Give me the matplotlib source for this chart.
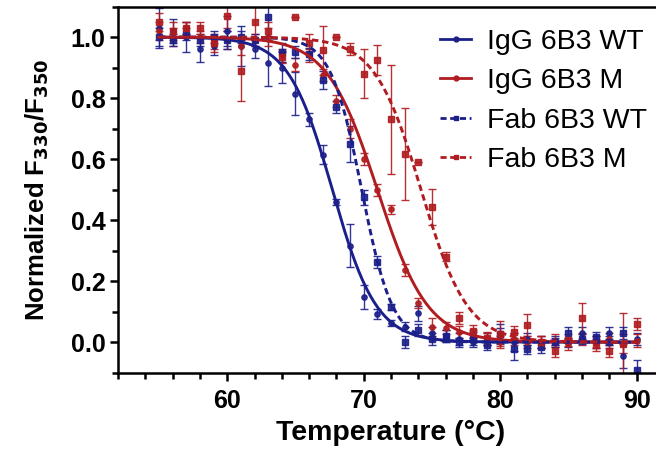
import numpy as np
import matplotlib
matplotlib.use("Agg")
import matplotlib.pyplot as plt
from matplotlib.lines import Line2D
from matplotlib.ticker import MultipleLocator

plt.rcParams['font.family'] = ['Liberation Sans', 'DejaVu Sans']

# ---- data ----
temps = list(range(55, 91))

igg_wt = [1.03, 1.02, 1.00, 0.96, 0.97, 1.02, 0.97, 0.96, 0.915, 0.90,
          0.815, 0.73, 0.615, 0.46, 0.316, 0.148, 0.092, 0.062, 0.05, 0.095,
          0.03, 0.02, 0.01, 0.0, 0.01, 0.02, 0.0, 0.01, 0.0, 0.005,
          0.0, 0.03, 0.0, 0.03, -0.045, 0.01]
igg_wt_err = [0.065, 0.04, 0.05, 0.04, 0.03, 0.05, 0.065, 0.03, 0.075, 0.05,
              0.07, 0.02, 0.03, 0.01, 0.07, 0.04, 0.015, 0.01, 0.015, 0.025,
              0.02, 0.02, 0.02, 0.015, 0.02, 0.025, 0.03, 0.02, 0.02, 0.015,
              0.015, 0.02, 0.02, 0.02, 0.04, 0.02]

igg_m = [1.02, 1.0, 1.03, 1.0, 0.98, 0.99, 0.97, 0.99, 1.0, 0.94,
         0.91, 0.94, 0.875, 0.79, 0.70, 0.60, 0.50, 0.436, 0.236, 0.128,
         0.05, 0.045, 0.033, 0.02, 0.01, 0.0, 0.01, 0.0, 0.0, 0.005,
         -0.005, 0.01, 0.0, 0.01, -0.005, 0.005]
igg_m_err = [0.03, 0.03, 0.02, 0.02, 0.02, 0.03, 0.03, 0.02, 0.03, 0.02,
             0.02, 0.02, 0.02, 0.02, 0.03, 0.02, 0.02, 0.015, 0.02, 0.015,
             0.03, 0.02, 0.02, 0.02, 0.02, 0.02, 0.02, 0.02, 0.02, 0.02,
             0.02, 0.02, 0.02, 0.02, 0.1, 0.02]

fab_wt = [1.0, 0.99, 1.01, 0.99, 1.0, 0.99, 1.0, 0.99, 1.065, 0.95,
          0.95, 0.945, 0.86, 0.77, 0.65, 0.475, 0.263, 0.116, 0.0, 0.04,
          0.01, 0.02, 0.0, 0.012, -0.01, 0.028, -0.024, -0.024, -0.015, 0.0,
          0.03, 0.01, 0.017, 0.0, 0.03, -0.09]
fab_wt_err = [0.03, 0.02, 0.02, 0.02, 0.02, 0.03, 0.02, 0.02, 0.06, 0.03,
              0.02, 0.02, 0.03, 0.02, 0.06, 0.025, 0.02, 0.01, 0.02, 0.02,
              0.02, 0.02, 0.015, 0.02, 0.015, 0.03, 0.035, 0.015, 0.02, 0.015,
              0.02, 0.015, 0.015, 0.02, 0.02, 0.03]

fab_m = [1.05, 1.02, 1.03, 1.03, 0.98, 1.07, 0.89, 1.05, 1.02, 0.935,
         1.067, 0.98, 0.957, 1.0, 0.96, 0.88, 0.925, 0.73, 0.616, 0.59,
         0.443, 0.28, 0.08, 0.035, 0.012, 0.028, 0.033, 0.056, 0.0, -0.028,
         0.007, 0.078, -0.01, -0.03, -0.005, 0.06]
fab_m_err = [0.03, 0.03, 0.02, 0.02, 0.03, 0.04, 0.1, 0.06, 0.03, 0.02,
             0.0, 0.03, 0.08, 0.0, 0.02, 0.08, 0.05, 0.18, 0.15, 0.0,
             0.06, 0.015, 0.02, 0.02, 0.02, 0.04, 0.02, 0.035, 0.02, 0.02,
             0.02, 0.05, 0.02, 0.02, 0.03, 0.02]

# Boltzmann fit parameters shown in the figure: (Tm, slope)
fit_tm = [67.7, 71.0, 69.85, 74.2]
fit_slope = [1.62, 1.85, 1.13, 1.7]

labels = ["IgG 6B3 WT", "IgG 6B3 M", "Fab 6B3 WT", "Fab 6B3 M"]

NAVY = '#1b1f8a'
RED = '#b01c1f'
colors = [NAVY, RED, NAVY, RED]
styles = ['-', '-', (0, (2.2, 1.3)), (0, (2.2, 1.3))]
markers = ['o', 'o', 's', 's']
msizes = [3.8, 3.8, 4.4, 4.4]

series = [(igg_wt, igg_wt_err), (igg_m, igg_m_err),
          (fab_wt, fab_wt_err), (fab_m, fab_m_err)]

fig = plt.figure(figsize=(6.56, 4.51), dpi=100)
ax = fig.add_axes([118 / 656, 1 - 372.6 / 451, 546 / 656, 366 / 451])

t_fine = np.linspace(min(temps), max(temps), 400)
for i, (vals, errs) in enumerate(series):
    ax.errorbar(temps, vals, yerr=errs, fmt=markers[i], ms=msizes[i],
                color=colors[i], ecolor=colors[i], elinewidth=1.0,
                capsize=3, capthick=1.0, alpha=0.9, zorder=2)
for i in range(4):
    curve = 1 / (1 + np.exp((t_fine - fit_tm[i]) / fit_slope[i]))
    ax.plot(t_fine, curve, color=colors[i], ls=styles[i], lw=2.1, zorder=3)

ax.set_xlim(52, 92)
ax.set_ylim(-0.1, 1.1)
ax.xaxis.set_major_locator(MultipleLocator(10))
ax.xaxis.set_minor_locator(MultipleLocator(2))
ax.yaxis.set_major_locator(MultipleLocator(0.2))
ax.yaxis.set_minor_locator(MultipleLocator(0.1))
ax.yaxis.set_major_formatter(matplotlib.ticker.FormatStrFormatter('%.1f'))

for sp in ax.spines.values():
    sp.set_linewidth(1.8)
ax.tick_params(axis='x', which='major', pad=6)
ax.tick_params(axis='y', which='major', pad=3)
ax.tick_params(which='major', direction='out', length=6, width=1.8,
               labelsize=18)
ax.tick_params(which='minor', direction='out', length=4, width=1.8)
for lab in ax.get_xticklabels() + ax.get_yticklabels():
    lab.set_fontweight('bold')

ax.set_xlabel("Temperature (°C)", fontsize=20.5, fontweight='bold', labelpad=5)
ax.set_ylabel(r"Normalized F$_{\mathbf{330}}$/F$_{\mathbf{350}}$",
              fontsize=18.5, fontweight='bold', labelpad=14)

handles = [Line2D([], [], color=colors[i], ls=styles[i], lw=2.0,
                  marker=markers[i], ms=3.5) for i in range(4)]
ax.legend(handles, labels, loc='upper left',
          bbox_to_anchor=(440 / 656, 1 - 29 / 451),
          bbox_transform=fig.transFigure, frameon=False, fontsize=20.5,
          handlelength=1.1, handletextpad=0.55, labelspacing=0.47,
          borderpad=0, borderaxespad=0)

fig.savefig("out.png", dpi=100)
